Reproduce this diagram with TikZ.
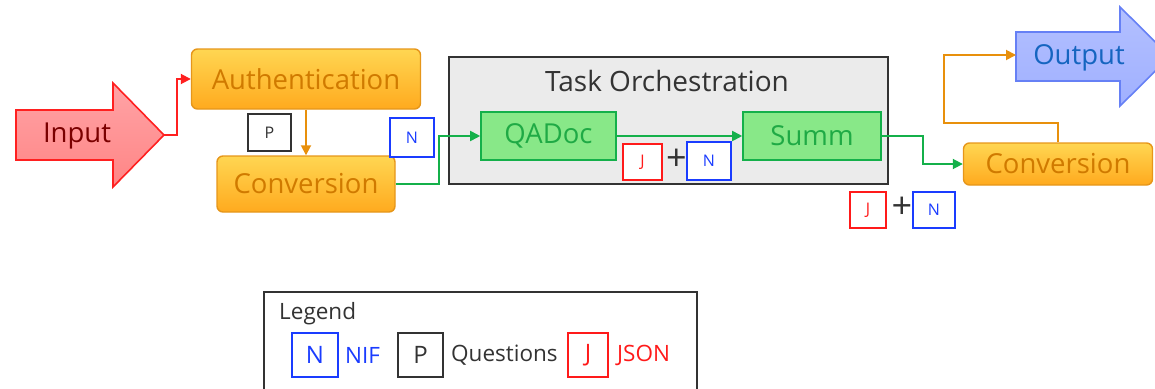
\documentclass[tikz,border=0pt]{standalone}
\usepackage{fontspec}
\setmainfont{Open Sans}
\usetikzlibrary{arrows.meta}

\definecolor{redfillA}{HTML}{FFA3A6}
\definecolor{redfillB}{HTML}{FF8585}
\definecolor{redstroke}{HTML}{FF2020}
\definecolor{redtext}{HTML}{7A0000}
\definecolor{ortop}{HTML}{FFD652}
\definecolor{orbot}{HTML}{FFAA1E}
\definecolor{orstroke}{HTML}{E6961A}
\definecolor{ortext}{HTML}{D07A00}
\definecolor{orline}{HTML}{E8900C}
\definecolor{grfill}{HTML}{88E888}
\definecolor{grstroke}{HTML}{14B04A}
\definecolor{grtext}{HTML}{1FAA45}
\definecolor{blfillA}{HTML}{B3C0FF}
\definecolor{blfillB}{HTML}{A0B0FF}
\definecolor{blstroke}{HTML}{6680F5}
\definecolor{bltext}{HTML}{1565C0}
\definecolor{taskfill}{HTML}{EBEBEB}
\definecolor{darkline}{HTML}{333333}
\definecolor{tagblue}{HTML}{1A3CFF}
\definecolor{tagred}{HTML}{FF1A1A}

\begin{document}
\begin{tikzpicture}[x=1pt,y=-1pt,
  bigfont/.style={font=\fontsize{27.5}{32}\selectfont},
  legfont/.style={font=\fontsize{22.5}{26}\selectfont},
  orangebox/.style={rounded corners=6pt, draw=orstroke, line width=1.4pt,
    top color=ortop, bottom color=orbot, text=ortext, bigfont, inner sep=0pt},
  greenbox/.style={draw=grstroke, line width=1.6pt, fill=grfill, text=grtext,
    bigfont, inner sep=0pt, minimum width=136pt, minimum height=48pt},
  tag/.style={draw, line width=1.4pt, fill=white, inner sep=0pt,
    font=\fontsize{16}{18}\selectfont},
  legtag/.style={draw, line width=1.4pt, fill=white, inner sep=0pt,
    minimum height=44pt, font=\fontsize{24}{28}\selectfont},
  plus/.style={text=darkline, inner sep=0pt, font=\fontsize{36}{38}\selectfont},
  tip/.style={-{Triangle[length=10pt,width=10pt]}},
  conn/.style={line width=1.8pt, tip}
]
\useasboundingbox (0,0) rectangle (1155,388);

% Input arrow
\draw[line width=1.6pt, draw=redstroke, top color=redfillA, bottom color=redfillB]
  (16,110) -- (113,110) -- (113,83) -- (164,135) -- (113,187) -- (113,160) -- (16,160) -- cycle;
\coordinate (intip) at (164,135);
\node[bigfont, text=redtext] (input) at (77,136) {Input};

% Output arrow
\draw[line width=1.6pt, draw=blstroke, top color=blfillA, bottom color=blfillB]
  (1016,32) -- (1120,32) -- (1120,7) -- (1170,56.5) -- (1120,106) -- (1120,81) -- (1016,81) -- cycle;
\coordinate (outtail) at (1016,55);
\node[bigfont, text=bltext] (output) at (1079,58) {Output};

% Pre-processing
\node[orangebox, minimum width=229pt, minimum height=60pt] (auth) at (306,79) {Authentication};
\node[orangebox, minimum width=178pt, minimum height=56pt] (conv1) at (306,184) {Conversion};
\node[tag, draw=darkline, text=darkline, minimum width=43pt, minimum height=37pt] (tagP) at (269.5,132.5) {P};
\node[tag, draw=tagblue, text=tagblue, minimum width=44pt, minimum height=39pt] (tagN1) at (412,137.5) {N};

% Task orchestration group
\node[draw=darkline, line width=1.8pt, fill=taskfill, minimum width=439pt, minimum height=127pt, inner sep=0pt]
  (task) at (668.5,120.5) {};
\node[font=\fontsize{28}{32}\selectfont, text=darkline] (tasktitle) at (667,81) {Task Orchestration};
\node[greenbox, minimum width=135pt] (qadoc) at (548.5,136) {QADoc};
\node[greenbox, minimum width=138pt] (summ) at (812,136) {Summ};
\node[tag, draw=tagred, text=tagred, minimum width=39pt, minimum height=36pt] (tagJ1) at (642.5,162) {J};
\node[plus] (plus1) at (676.5,160) {+};
\node[tag, draw=tagblue, text=tagblue, minimum width=44pt, minimum height=38pt] (tagN2) at (709,161) {N};

% Post-processing
\node[orangebox, minimum width=189pt, minimum height=42pt] (conv2) at (1058,164) {Conversion};
\node[tag, draw=tagred, text=tagred, minimum width=36pt, minimum height=36pt] (tagJ2) at (868,210) {J};
\node[plus] (plus2) at (902,208) {+};
\node[tag, draw=tagblue, text=tagblue, minimum width=42pt, minimum height=36pt] (tagN3) at (934,210) {N};

% Connectors
\draw[conn, redstroke] (intip) -- ++(13,0) |- (auth.west);
\draw[conn, orline] (auth.south) -- (conv1.north);
\draw[conn, grstroke] (conv1.east) -- ++(43,0) |- (qadoc.west);
\draw[conn, grstroke] (qadoc.east) -- (summ.west);
\draw[conn, grstroke] (summ.east) -- ++(41,0) |- (conv2.west);
\coordinate (bend) at (944,123);
\draw[conn, orline] (conv2.north) |- (bend) |- (outtail);

% Legend
\node[draw=darkline, line width=1.4pt, minimum width=433pt, minimum height=110pt, inner sep=0pt]
  (legend) at (480.5,347) {};
\node[legfont, text=darkline, anchor=west, inner sep=0pt] (legtitle) at (279,314) {Legend};
\node[legtag, draw=tagblue, text=tagblue, minimum width=46pt] (legN) at (315,355) {N};
\node[legfont, text=tagblue, anchor=west, inner sep=0pt] (legNIF) at (345,355) {NIF};
\node[legtag, draw=darkline, text=darkline, minimum width=45pt] (legP) at (420.5,355) {P};
\node[legfont, text=darkline, anchor=west, inner sep=0pt] (legQ) at (451,355) {Questions};
\node[legtag, draw=tagred, text=tagred, minimum width=40pt] (legJ) at (588,355) {J};
\node[legfont, text=tagred, anchor=west, inner sep=0pt] (legJSON) at (617,355) {JSON};
\end{tikzpicture}
\end{document}
